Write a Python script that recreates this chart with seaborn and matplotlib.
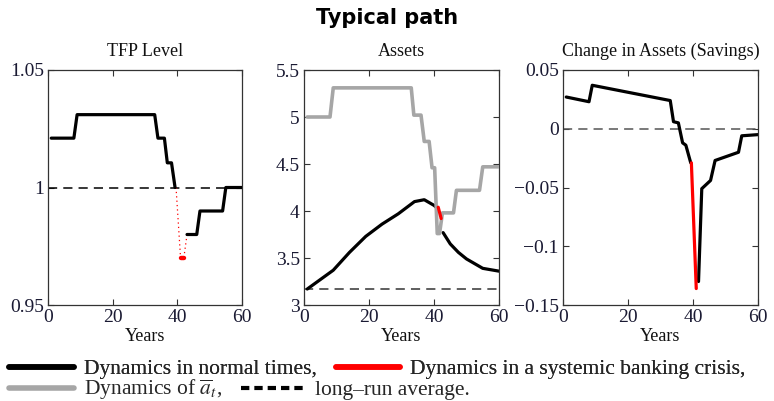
import matplotlib
matplotlib.use("Agg")
import matplotlib.pyplot as plt
import seaborn as sns
import numpy as np
from matplotlib.lines import Line2D

# ---------------- data (vertices) ----------------
# TFP level
tfp_norm1_x = [1, 8, 9, 33, 34, 36, 36.9, 38.2, 39.3]
tfp_norm1_y = [1.021, 1.021, 1.031, 1.031, 1.021, 1.021, 1.0105, 1.0105, 1.0]
tfp_norm2_x = [43, 46, 47, 54, 55, 60]
tfp_norm2_y = [0.98, 0.98, 0.99, 0.99, 1.0, 1.0]
tfp_crisis_x = [39.6, 41, 42, 43]
tfp_crisis_y = [1.0, 0.97, 0.97, 0.98]
tfp_avg = 1.0

# Assets
as_norm1_x = [1, 9, 14, 19, 24, 29, 34, 37, 40, 41]
as_norm1_y = [3.17, 3.37, 3.56, 3.73, 3.86, 3.97, 4.10, 4.12, 4.06, 4.03]
as_crisis_x = [41.3, 42.2]
as_crisis_y = [4.04, 3.92]
as_norm2_x = [42.8, 45, 47.5, 50, 55, 60]
as_norm2_y = [3.77, 3.65, 3.56, 3.49, 3.39, 3.36]
abar_x = [1, 8, 9, 33, 33.8, 36, 37, 38.5, 39.4, 40.2, 41, 41.7, 42.6, 46, 46.9, 54, 55, 60]
abar_y = [5.0, 5.0, 5.31, 5.31, 5.02, 5.02, 4.74, 4.74, 4.46, 4.46, 3.76, 3.76,
          3.98, 3.98, 4.22, 4.22, 4.47, 4.47]
as_avg = 3.17

# Change in assets (savings)
sv_norm1_x = [1, 8, 9, 33, 34, 35.5, 36.8, 37.8, 39.3]
sv_norm1_y = [0.027, 0.023, 0.037, 0.024, 0.006, 0.005, -0.012, -0.014, -0.029]
sv_crisis_x = [39.5, 41.0]
sv_crisis_y = [-0.029, -0.136]
sv_norm2_x = [41.7, 42.7, 45.4, 46.8, 54, 55, 60]
sv_norm2_y = [-0.130, -0.051, -0.044, -0.027, -0.020, -0.006, -0.005]
sv_avg = 0.0

x_ticks = [0, 20, 40, 60]
tfp_ticks = [0.95, 1.0, 1.05]
tfp_labels = ["0.95", "1", "1.05"]
as_ticks = [3, 3.5, 4, 4.5, 5, 5.5]
as_labels = ["3", "3.5", "4", "4.5", "5", "5.5"]
sv_ticks = [-0.15, -0.1, -0.05, 0, 0.05]
sv_labels = ["\u22120.15", "\u22120.1", "\u22120.05", "0", "0.05"]

titles = ["TFP Level", "Assets", "Change in Assets (Savings)"]
suptitle = "Typical path"
xlabel = "Years"
leg_row1 = ["Dynamics in normal times,", "Dynamics in a systemic banking crisis,"]
leg_row2 = [r"Dynamics of $\overline{a}_t$,", "long\u2013run average."]

# ---------------- style ----------------
sns.set_style("ticks")
plt.rcParams["font.family"] = ["Liberation Serif", "DejaVu Serif"]
plt.rcParams["mathtext.fontset"] = "stix"

BLACK = "#000000"
RED = "#ff0000"
GRAY = "#a6a6a6"
TICKC = "#1a1a33"
LW = 2.3

fig = plt.figure(figsize=(7.74, 4.01), dpi=100)

positions = [
    [48 / 774, 1 - 305 / 401, 194 / 774, 235 / 401],
    [304 / 774, 1 - 305 / 401, 195 / 774, 235 / 401],
    [563 / 774, 1 - 305 / 401, 195 / 774, 235 / 401],
]
axes = [fig.add_axes(p) for p in positions]


def style_axis(ax, yticks, ylabels, ylim, title):
    ax.set_xlim(0, 60)
    ax.set_ylim(*ylim)
    ax.set_xticks(x_ticks)
    ax.set_xticklabels([str(v) for v in x_ticks])
    ax.set_yticks(yticks)
    ax.set_yticklabels(ylabels)
    ax.tick_params(direction="in", top=True, right=True, length=4, width=0.8,
                   labelsize=14, colors="#333333", labelcolor=TICKC, pad=3)
    for s in ax.spines.values():
        s.set_visible(True)
        s.set_color("#333333")
        s.set_linewidth(0.9)
    ax.set_title(title, fontsize=13, pad=10, color="#111111")
    ax.set_xlabel(xlabel, fontsize=13, labelpad=1, color="#111111")
    ax.set_ylabel("")


# Panel 1: TFP
ax = axes[0]
ax.axhline(tfp_avg, color=BLACK, lw=1.1, dashes=(6, 4), zorder=1)
sns.lineplot(x=tfp_crisis_x, y=tfp_crisis_y, ax=ax, color=RED, lw=0.9,
             sort=False, zorder=2)
ax.lines[-1].set_linestyle((0, (1, 2.5)))
sns.lineplot(x=tfp_crisis_x[1:3], y=tfp_crisis_y[1:3], ax=ax, color=RED,
             lw=3.2, sort=False, zorder=3)
sns.lineplot(x=tfp_norm1_x, y=tfp_norm1_y, ax=ax, color=BLACK, lw=LW, sort=False, zorder=4)
sns.lineplot(x=tfp_norm2_x, y=tfp_norm2_y, ax=ax, color=BLACK, lw=LW, sort=False, zorder=4)
style_axis(ax, tfp_ticks, tfp_labels, (0.95, 1.05), titles[0])

# Panel 2: Assets
ax = axes[1]
ax.axhline(as_avg, color="#333333", lw=1.1, dashes=(6, 4), zorder=1)
sns.lineplot(x=as_norm1_x, y=as_norm1_y, ax=ax, color=BLACK, lw=LW, sort=False, zorder=2)
sns.lineplot(x=as_norm2_x, y=as_norm2_y, ax=ax, color=BLACK, lw=LW, sort=False, zorder=2)
sns.lineplot(x=abar_x, y=abar_y, ax=ax, color=GRAY, lw=LW + 0.3, sort=False, zorder=3)
sns.lineplot(x=as_crisis_x, y=as_crisis_y, ax=ax, color=RED, lw=LW, sort=False, zorder=4)
style_axis(ax, as_ticks, as_labels, (3, 5.5), titles[1])

# Panel 3: Savings
ax = axes[2]
ax.axhline(sv_avg, color="#555555", lw=1.1, dashes=(6, 4), zorder=1)
sns.lineplot(x=sv_norm1_x, y=sv_norm1_y, ax=ax, color=BLACK, lw=LW, sort=False, zorder=2)
sns.lineplot(x=sv_norm2_x, y=sv_norm2_y, ax=ax, color=BLACK, lw=LW, sort=False, zorder=2)
sns.lineplot(x=sv_crisis_x, y=sv_crisis_y, ax=ax, color=RED, lw=LW, sort=False, zorder=3)
style_axis(ax, sv_ticks, sv_labels, (-0.15, 0.05), titles[2])

for a in axes:
    leg = a.get_legend()
    if leg is not None:
        leg.remove()

fig.text(0.5, 1 - 18 / 401, suptitle, ha="center", va="center", fontsize=15,
         fontweight="bold", color="black", family=["DejaVu Sans"])

# Legend rows
h1 = [Line2D([], [], color=BLACK, lw=4), Line2D([], [], color=RED, lw=4)]
h2 = [Line2D([], [], color=GRAY, lw=4),
      Line2D([], [], color=BLACK, lw=3, dashes=(2.0, 1.2))]
common = dict(frameon=False, ncol=2, loc="center left", fontsize=15.5,
              handlelength=3.0, handletextpad=0.45, columnspacing=0.9,
              borderaxespad=0, borderpad=0)
leg1 = fig.legend(h1, leg_row1, bbox_to_anchor=(0.012, 1 - 369 / 401), **common)
leg2 = fig.legend(h2, leg_row2, bbox_to_anchor=(0.012, 1 - 390 / 401), **common)
fig.add_artist(leg1)

fig.savefig("out.png", dpi=100)
